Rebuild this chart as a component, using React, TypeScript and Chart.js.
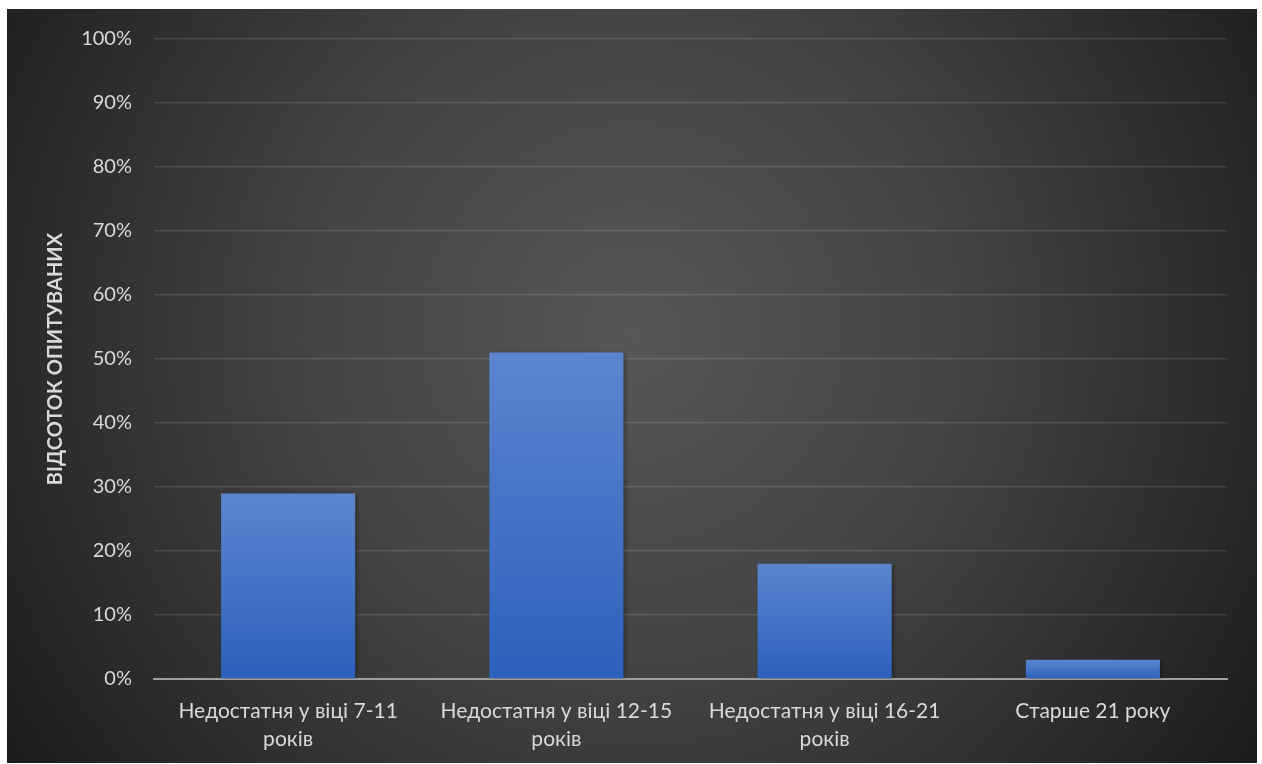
import React, { useEffect, useRef } from "react";
import { Chart, registerables } from "chart.js";

Chart.register(...registerables);

const categories: string[][] = [
  ["Недостатня у віці 7-11", "років"],
  ["Недостатня у віці 12-15", "років"],
  ["Недостатня у віці 16-21", "років"],
  ["Старше 21 року"],
];
const shares: number[] = [29, 51, 18, 3];
const yTicks: number[] = [0, 10, 20, 30, 40, 50, 60, 70, 80, 90, 100];
const yTitle = "ВІДСОТОК ОПИТУВАНИХ";

const FONT = "Lato, 'Open Sans', sans-serif";
const TEXT = "#d9d9d9";

// Dark radial backdrop behind the whole chart
const backdrop = {
  id: "backdrop",
  beforeDraw(chart: Chart) {
    const { ctx, width, height } = chart;
    const cx = width * 0.5;
    const cy = height * 0.43;
    const r = Math.hypot(width * 0.5, height * 0.57);
    const g = ctx.createRadialGradient(cx, cy, 0, cx, cy, r);
    g.addColorStop(0, "#575757");
    g.addColorStop(0.45, "#434343");
    g.addColorStop(1, "#1c1c1c");
    ctx.save();
    ctx.fillStyle = g;
    ctx.fillRect(0, 0, width, height);
    ctx.restore();
  },
};

// Soft drop shadow under the bars
const barShadow = {
  id: "barShadow",
  beforeDatasetDraw(chart: Chart) {
    const ctx = chart.ctx;
    ctx.save();
    ctx.shadowColor = "rgba(0,0,0,0.45)";
    ctx.shadowBlur = 5;
    ctx.shadowOffsetX = 2;
    ctx.shadowOffsetY = 1;
  },
  afterDatasetDraw(chart: Chart) {
    chart.ctx.restore();
  },
};

// Vertical gradient spanning each bar from its top down to the baseline
function barFill(c: any) {
  const ch = c.chart;
  const y = ch.scales?.y;
  if (!y || c.raw == null) return "#4472c4";
  const top = y.getPixelForValue(c.raw);
  const bottom = y.getPixelForValue(0);
  if (!isFinite(top) || !isFinite(bottom) || top === bottom) return "#4472c4";
  const g = ch.ctx.createLinearGradient(0, top, 0, bottom);
  g.addColorStop(0, "#5d85cf");
  g.addColorStop(1, "#2d60bc");
  return g;
}

export default function App() {
  const ref = useRef<HTMLCanvasElement | null>(null);

  useEffect(() => {
    if (!ref.current) return;
    const chart = new Chart(ref.current, {
      type: "bar",
      data: {
        labels: categories,
        datasets: [
          {
            data: shares,
            barPercentage: 0.5,
            categoryPercentage: 1,
            borderWidth: 0,
            backgroundColor: barFill,
          },
        ],
      },
      options: {
        animation: false,
        responsive: false,
        devicePixelRatio: 1,
        layout: { padding: { top: 30, right: 30, left: 0, bottom: 0 } },
        plugins: {
          legend: { display: false },
          tooltip: { enabled: false },
        },
        scales: {
          x: {
            grid: { display: false, drawTicks: false },
            border: { display: true, color: "#a0a0a0", width: 2 },
            ticks: {
              color: TEXT,
              font: { family: FONT, size: 21, lineHeight: 1.35 },
              padding: 18,
              maxRotation: 0,
              autoSkip: false,
            },
            afterFit: (s: any) => {
              s.height = 84;
            },
          },
          y: {
            min: 0,
            max: 100,
            afterBuildTicks: (s: any) => {
              s.ticks = yTicks.map((v) => ({ value: v }));
            },
            grid: {
              color: "rgba(255,255,255,0.12)",
              lineWidth: 1.5,
              drawTicks: true,
              tickLength: 22,
              tickColor: "rgba(0,0,0,0)",
            },
            border: { display: false },
            ticks: {
              color: TEXT,
              font: { family: FONT, size: 20 },
              padding: 0,
              callback: (v: any) => `${v}%`,
            },
            title: {
              display: true,
              text: yTitle,
              color: TEXT,
              font: { family: FONT, size: 20, weight: "bold" },
              padding: { top: 37, bottom: 0 },
            },
            afterFit: (s: any) => {
              s.width = 147;
            },
          },
        },
      },
      plugins: [backdrop, barShadow],
    });
    return () => chart.destroy();
  }, []);

  return (
    <div style={{ position: "absolute", left: 7, top: 9 }}>
      <canvas ref={ref} width={1250} height={754} style={{ display: "block" }} />
    </div>
  );
}
